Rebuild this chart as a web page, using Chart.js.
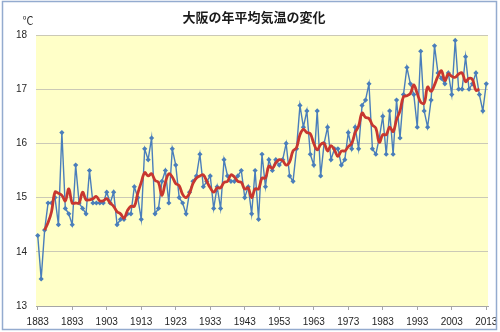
<!DOCTYPE html>
<html lang="ja">
<head>
<meta charset="utf-8">
<title>大阪の年平均気温の変化</title>
<script src="https://cdn.jsdelivr.net/npm/chart.js@4.4.1/dist/chart.umd.min.js"></script>
<style>
  html, body { margin: 0; padding: 0; background: #ffffff; }
  #wrap { position: relative; width: 500px; height: 332px; }
</style>
</head>
<body>
<div id="wrap"><canvas id="chart" width="500" height="332"></canvas></div>
<script>
// 年（1883〜2013）
const years = [
  1883, 1884, 1885, 1886, 1887, 1888, 1889, 1890, 1891, 1892,
  1893, 1894, 1895, 1896, 1897, 1898, 1899, 1900, 1901, 1902,
  1903, 1904, 1905, 1906, 1907, 1908, 1909, 1910, 1911, 1912,
  1913, 1914, 1915, 1916, 1917, 1918, 1919, 1920, 1921, 1922,
  1923, 1924, 1925, 1926, 1927, 1928, 1929, 1930, 1931, 1932,
  1933, 1934, 1935, 1936, 1937, 1938, 1939, 1940, 1941, 1942,
  1943, 1944, 1945, 1946, 1947, 1948, 1949, 1950, 1951, 1952,
  1953, 1954, 1955, 1956, 1957, 1958, 1959, 1960, 1961, 1962,
  1963, 1964, 1965, 1966, 1967, 1968, 1969, 1970, 1971, 1972,
  1973, 1974, 1975, 1976, 1977, 1978, 1979, 1980, 1981, 1982,
  1983, 1984, 1985, 1986, 1987, 1988, 1989, 1990, 1991, 1992,
  1993, 1994, 1995, 1996, 1997, 1998, 1999, 2000, 2001, 2002,
  2003, 2004, 2005, 2006, 2007, 2008, 2009, 2010, 2011, 2012,
  2013
];

// 年平均気温（℃）
const annualTemp = [
  14.3, 13.5, 14.4, 14.9, 14.9, 15.0, 14.5, 16.2, 14.8, 14.7,
  14.5, 15.6, 14.9, 14.8, 14.7, 15.5, 14.9, 14.9, 14.9, 14.9,
  15.1, 14.9, 15.1, 14.5, 14.6, 14.6, 14.7, 14.7, 15.2, 15.0,
  14.6, 15.9, 15.7, 16.1, 14.7, 14.8, 15.3, 15.5, 14.9, 15.9,
  15.6, 15.0, 14.9, 14.7, 15.1, 15.3, 15.4, 15.8, 15.2, 15.3,
  15.4, 14.8, 15.2, 14.8, 15.7, 15.4, 15.3, 15.3, 15.4, 15.5,
  15.0, 15.2, 14.7, 15.5, 14.6, 15.8, 15.2, 15.7, 15.5, 15.7,
  15.6, 15.7, 16.0, 15.4, 15.3, 15.9, 16.7, 16.3, 16.6, 15.8,
  15.6, 16.6, 15.4, 16.0, 16.3, 15.7, 15.9, 15.9, 15.6, 15.7,
  16.2, 15.9, 16.3, 15.9, 16.7, 16.8, 17.1, 15.9, 15.8, 16.1,
  16.5, 15.8, 16.6, 15.8, 16.8, 16.1, 16.9, 17.4, 17.1, 16.9,
  16.3, 17.7, 16.6, 16.3, 16.8, 17.8, 17.3, 17.2, 17.1, 17.3,
  16.9, 17.9, 17.0, 17.0, 17.6, 17.0, 17.1, 17.3, 16.9, 16.6,
  17.1
];

// 5年移動平均（℃）
const movingAvg5 = [
  null, null, 14.40, 14.54, 14.74, 15.10, 15.08, 15.04, 14.94, 15.16,
  14.90, 14.90, 14.90, 15.10, 14.96, 14.96, 14.98, 15.02, 14.94, 14.94,
  14.98, 14.90, 14.84, 14.74, 14.70, 14.62, 14.76, 14.84, 14.84, 15.08,
  15.28, 15.46, 15.40, 15.44, 15.32, 15.28, 15.04, 15.28, 15.44, 15.38,
  15.26, 15.22, 15.06, 15.00, 15.08, 15.26, 15.36, 15.40, 15.42, 15.30,
  15.18, 15.10, 15.18, 15.18, 15.28, 15.30, 15.42, 15.38, 15.30, 15.28,
  15.16, 15.18, 15.00, 15.16, 15.16, 15.36, 15.36, 15.58, 15.54, 15.64,
  15.70, 15.68, 15.60, 15.66, 15.86, 15.92, 16.16, 16.26, 16.20, 16.18,
  16.00, 15.88, 15.98, 16.00, 15.86, 15.96, 15.88, 15.76, 15.86, 15.86,
  15.94, 16.00, 16.20, 16.32, 16.56, 16.48, 16.46, 16.34, 16.28, 16.02,
  16.16, 16.16, 16.30, 16.22, 16.44, 16.60, 16.86, 16.88, 16.92, 17.08,
  16.92, 16.76, 16.74, 17.04, 16.96, 17.08, 17.24, 17.34, 17.16, 17.28,
  17.24, 17.22, 17.28, 17.30, 17.14, 17.20, 17.18, 16.98, 17.00, null,
  null
];

// 目盛
const tickYears = [1883, 1893, 1903, 1913, 1923, 1933, 1943, 1953, 1963, 1973, 1983, 1993, 2003, 2013];
const tempMin = 13;
const tempMax = 18;
const tempStep = 1;

const chartTitle = '大阪の年平均気温の変化';
const unitLabel = '℃';

const tickFont = { family: '"Liberation Sans", Arial, sans-serif', size: 10 };

// 背景・見出し・外枠
const decorations = {
  id: 'decorations',
  beforeDraw(chart) {
    const { ctx, chartArea: a } = chart;
    ctx.save();
    ctx.fillStyle = '#ffffff';
    ctx.fillRect(0, 0, chart.width, chart.height);
    ctx.fillStyle = '#ffffc8';
    ctx.fillRect(a.left, a.top, a.right - a.left, a.bottom - a.top);
    ctx.restore();
  },
  afterDraw(chart) {
    const { ctx } = chart;
    ctx.save();
    ctx.fillStyle = '#1a1a1a';
    ctx.textAlign = 'center';
    ctx.textBaseline = 'middle';
    ctx.font = 'bold 13px "Noto Sans CJK JP", sans-serif';
    ctx.fillText(chartTitle, 254, 17);
    ctx.font = '11px "Noto Sans CJK JP", sans-serif';
    ctx.fillStyle = '#333333';
    ctx.fillText(unitLabel, 28, 21);
    ctx.strokeStyle = '#94abcf';
    ctx.lineWidth = 1.5;
    ctx.strokeRect(2.5, 1.5, 494, 328);
    ctx.restore();
  }
};

new Chart(document.getElementById('chart'), {
  type: 'line',
  data: {
    labels: years,
    datasets: [
      {
        label: '5年移動平均',
        data: movingAvg5,
        borderColor: '#c8372f',
        borderWidth: 2.8,
        pointRadius: 0,
        tension: 0.4,
        fill: false,
        order: 0
      },
      {
        label: '年平均気温',
        data: annualTemp,
        borderColor: '#4a7ebb',
        backgroundColor: '#4a7ebb',
        borderWidth: 1.4,
        pointStyle: 'rectRot',
        pointRadius: 2.6,
        pointBorderWidth: 0,
        tension: 0,
        fill: false,
        order: 1
      }
    ]
  },
  options: {
    responsive: false,
    devicePixelRatio: 1,
    animation: false,
    layout: { padding: { top: 35, right: 12, bottom: 0, left: 0 } },
    plugins: {
      legend: { display: false },
      title: { display: false },
      tooltip: { enabled: false }
    },
    scales: {
      x: {
        type: 'category',
        offset: true,
        grid: {
          display: true,
          offset: false,
          drawOnChartArea: false,
          drawTicks: true,
          tickLength: 4,
          color: '#a6a6a6'
        },
        border: { display: true, color: '#a6a6a6', width: 1 },
        ticks: {
          autoSkip: false,
          maxRotation: 0,
          minRotation: 0,
          padding: 6,
          color: '#262626',
          font: tickFont,
          callback(value) {
            const y = Number(this.getLabelForValue(value));
            return tickYears.includes(y) ? String(y) : null;
          }
        },
        afterFit(scale) {
          scale.height = 26;
          scale.paddingLeft = 0;
          scale.paddingRight = 0;
        }
      },
      y: {
        type: 'linear',
        min: tempMin,
        max: tempMax,
        grid: {
          color: '#cbc9b6',
          lineWidth: 1,
          drawTicks: false
        },
        border: { display: false },
        ticks: {
          stepSize: tempStep,
          padding: 9,
          color: '#262626',
          font: tickFont
        },
        afterFit(scale) {
          scale.width = 36;
          scale.paddingTop = 0;
          scale.paddingBottom = 0;
        }
      }
    }
  },
  plugins: [decorations]
});
</script>
</body>
</html>
